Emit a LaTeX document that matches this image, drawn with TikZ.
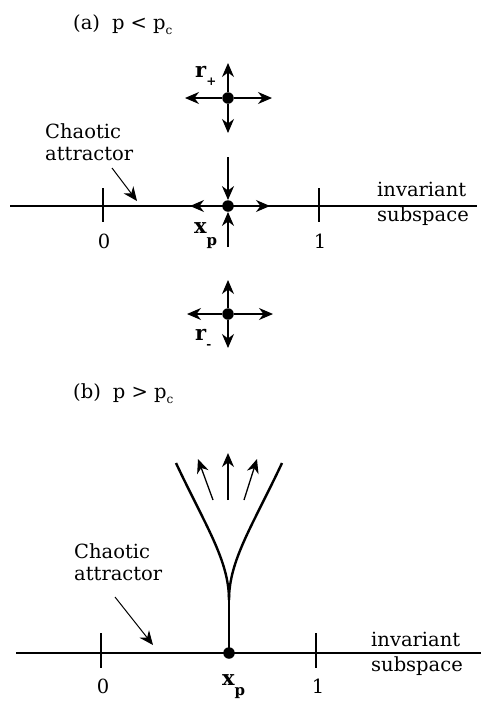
\documentclass[tikz,border=0pt]{standalone}
\usepackage{fontspec}
\setmainfont{DejaVu Serif}
\usetikzlibrary{arrows.meta}
\newcommand{\lsub}[3]{\raisebox{#1}{\fontsize{#2}{#2}\selectfont\bfseries #3}}
\newcommand{\csub}{\raisebox{-5pt}{\fontsize{12}{12}\selectfont c}}

\begin{document}
\begin{tikzpicture}[x=1pt, y=-1pt, every node/.style={font=\fontsize{19.5}{22}\selectfont, inner sep=0pt},
  dot/.style={circle, fill, minimum size=11.5pt},
  arr/.style={-{Stealth[length=14pt,width=12pt,inset=4.5pt]}, line width=1.3pt},
  ax/.style={line width=1.3pt},
  lbl/.style={font=\fontsize{21}{22}\selectfont\bfseries}]
\useasboundingbox (0,0) rectangle (481,702);
% (a) p < pc
\node[anchor=base west] (ta) at (73,29) {(a)\hspace{12pt}p < p\csub};
% invariant subspace
\coordinate (la0) at (10,206);
\coordinate (la1) at (477,206);
\draw[ax] (la0) -- (la1);
\coordinate (ta0t) at (103,188); \coordinate (ta0b) at (103,222);
\coordinate (ta1t) at (319,188); \coordinate (ta1b) at (319,222);
\draw[ax] (ta0t) -- (ta0b);
\draw[ax] (ta1t) -- (ta1b);
\node[anchor=base] (na0) at (104,248) {0};
\node[anchor=base] (na1) at (320,248) {1};
\node[anchor=north west, align=left, font=\fontsize{19.5}{25}\selectfont] (isa) at (377,182) {invariant\\subspace};
% Chaotic attractor
\node[anchor=north west, align=left] (caa) at (45,123) {Chaotic\\attractor};
\coordinate (caaS) at (112,168); \coordinate (caaE) at (137,201);
\draw[arr, line width=1pt] (caaS) -- (caaE);
% fixed point xp
\node[dot] (xa) at (228,206) {};
\coordinate (xaN) at (228,157); \coordinate (xaS) at (228,247);
\coordinate (xaW) at (190,206); \coordinate (xaE) at (270,206);
\draw[arr] (xaN) -- (xa);
\draw[arr] (xaS) -- (xa);
\draw[arr] (xa) -- (xaW);
\draw[arr] (xa) -- (xaE);
\node[lbl, anchor=base west] (xal) at (194,233) {x\lsub{-12pt}{15}{p}};
% r+
\node[dot] (rp) at (228,98) {};
\coordinate (rpN) at (228,63); \coordinate (rpS) at (228,133);
\coordinate (rpW) at (185,98); \coordinate (rpE) at (272,98);
\foreach \e in {rpN,rpS,rpW,rpE} \draw[arr] (rp) -- (\e);
\node[lbl, anchor=base west] (rpl) at (195,77) {r\lsub{-8pt}{12}{+}};
% r-
\node[dot] (rm) at (228,314) {};
\coordinate (rmN) at (228,280); \coordinate (rmS) at (228,348);
\coordinate (rmW) at (187,314); \coordinate (rmE) at (273,314);
\foreach \e in {rmN,rmS,rmW,rmE} \draw[arr] (rm) -- (\e);
\node[lbl, anchor=base west] (rml) at (195,340) {r\lsub{-8pt}{12}{-}};

% (b) p > pc
\node[anchor=base west] (tb) at (73,398) {(b)\hspace{12pt}p > p\csub};
% invariant subspace
\coordinate (lb0) at (16,653);
\coordinate (lb1) at (481,653);
\draw[ax] (lb0) -- (lb1);
\coordinate (tb0t) at (101,633); \coordinate (tb0b) at (101,668);
\coordinate (tb1t) at (316,633); \coordinate (tb1b) at (316,668);
\draw[ax] (tb0t) -- (tb0b);
\draw[ax] (tb1t) -- (tb1b);
\node[anchor=base] (nb0) at (103,693) {0};
\node[anchor=base] (nb1) at (318,693) {1};
\node[anchor=north west, align=left, font=\fontsize{19.5}{25}\selectfont] (isb) at (371,632) {invariant\\subspace};
% Chaotic attractor
\node[anchor=north west, align=left] (cab) at (74,543) {Chaotic\\attractor};
\coordinate (cabS) at (115,597); \coordinate (cabE) at (153,645);
\draw[arr, line width=1pt] (cabS) -- (cabE);
% unstable manifold of xp
\node[dot] (xb) at (229,653) {};
\coordinate (xbT) at (229,600);
\coordinate (xbL) at (176,463); \coordinate (xbR) at (282,463);
\draw[line width=2.4pt] (xb.center) -- (xbT);
\draw[line width=2.4pt] (xbT) .. controls (229,560) and (205,525) .. (xbL);
\draw[line width=2.4pt] (xbT) .. controls (229,560) and (253,525) .. (xbR);
\coordinate (fcS) at (228,500); \coordinate (fcE) at (228,453);
\coordinate (flS) at (213,500); \coordinate (flE) at (198,459);
\coordinate (frS) at (244,500); \coordinate (frE) at (257,459);
\draw[arr] (fcS) -- (fcE);
\draw[arr] (flS) -- (flE);
\draw[arr] (frS) -- (frE);
\node[lbl, anchor=base west] (xbl) at (222,685) {x\lsub{-10pt}{15}{p}};
\end{tikzpicture}
\end{document}
